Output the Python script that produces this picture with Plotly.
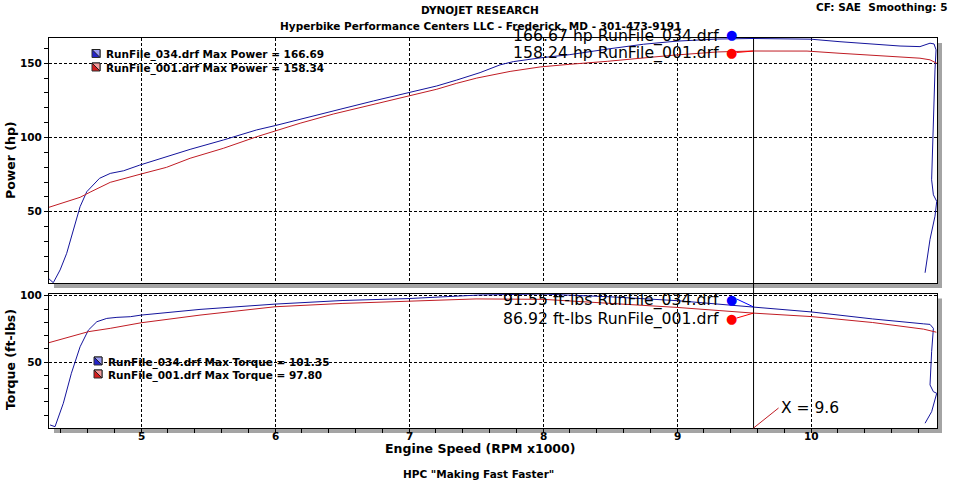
import plotly.graph_objects as go

# pixel frame of the whole plot block (961x481 page)
W, H = 961, 481
L, R, T, B = 49, 937, 38, 428


def px(xp):
    return (xp - L) / (R - L)


def py(yp):
    return (B - yp) / (B - T)


runs = ["RunFile_034.drf", "RunFile_001.drf"]
line_colors = ["#14149c", "#c01c24"]
dot_colors = ["#0000ff", "#ff0000"]
box_dark = ["#2424c8", "#d41c1c"]
box_light = ["#9c9cf4", "#f49c9c"]

rpm_ticks = [5, 6, 7, 8, 9, 10]
max_power = [166.69, 158.34]
max_torque = [101.35, 97.80]
cursor_rpm = 9.571
cursor_hp = [166.67, 158.24]
cursor_tq = [91.55, 86.92]

# Power (hp) vs engine speed (RPM x1000)
hp_rpm_034 = [4.308, 4.345, 4.396, 4.445, 4.495, 4.545, 4.595, 4.63, 4.69, 4.77, 4.87, 4.99,
              5.19, 5.366, 5.614, 5.863, 6.0, 6.237, 6.485, 6.734, 6.995, 7.207, 7.356, 7.53,
              7.679, 7.778, 7.978, 8.2, 8.5, 8.75, 9.0, 9.3, 9.567, 9.75, 10.0, 10.216, 10.463,
              10.664, 10.813, 10.888, 10.918, 10.933, 10.925, 10.913, 10.9, 10.913, 10.938,
              10.925, 10.888, 10.851]
hp_034 = [5.2, 2.2, 10.8, 22.0, 37.7, 53.4, 63.5, 66.8, 72.5, 75.8, 77.6, 81.4,
          87.0, 92.0, 98.3, 105.1, 108.0, 113.6, 119.0, 124.6, 130.2, 134.7, 138.7, 143.7,
          148.9, 151.1, 153.6, 155.8, 159.8, 162.8, 164.9, 166.3, 166.67, 166.6, 166.2, 164.5, 163.0,
          161.6, 161.2, 163.5, 163.0, 159.0, 145.5, 111.8, 71.5, 61.4, 57.0,
          47.0, 31.4, 8.9]

hp_rpm_001 = [4.313, 4.545, 4.62, 4.77, 5.0, 5.19, 5.366, 5.614, 5.863, 6.187, 6.435, 6.684,
              6.957, 7.207, 7.356, 7.505, 7.754, 7.978, 8.2, 8.48, 8.97, 9.3, 9.567, 9.75,
              9.97, 10.216, 10.589, 10.813, 10.888, 10.938]
hp_001 = [53.0, 59.7, 63.2, 69.8, 75.4, 79.9, 86.0, 92.7, 100.5, 109.6, 115.8, 121.2,
          127.5, 132.5, 136.5, 140.0, 144.5, 147.5, 149.3, 151.3, 155.4, 157.6, 158.24, 158.3,
          158.2, 156.7, 154.4, 153.4, 152.3, 150.0]

# Torque (ft-lbs) vs engine speed (RPM x1000)
tq_rpm_034 = [4.321, 4.358, 4.42, 4.48, 4.545, 4.607, 4.67, 4.744, 4.82, 4.92, 5.0, 5.44,
              6.0, 6.34, 6.5, 7.0, 7.53, 8.0, 8.5, 9.0, 9.3, 9.567, 10.0, 10.46, 10.72,
              10.84, 10.888, 10.913, 10.9, 10.888, 10.913, 10.938, 10.9, 10.851]
tq_034 = [2.5, 1.2, 18.9, 41.5, 61.5, 74.1, 80.4, 82.9, 83.7, 84.2, 85.4, 89.7,
          93.7, 95.8, 96.4, 97.9, 100.6, 101.3, 99.2, 96.3, 93.9, 91.55, 87.8, 82.5, 79.6,
          78.8, 78.4, 75.4, 57.8, 32.7, 27.6, 26.4, 12.5, 3.8]

tq_rpm_001 = [4.313, 4.607, 4.77, 5.0, 5.44, 6.0, 6.5, 7.0, 7.5, 8.0, 8.5, 9.0, 9.567,
              10.0, 10.46, 10.84, 10.935]
tq_001 = [64.6, 72.9, 75.4, 79.6, 85.4, 91.7, 94.2, 95.8, 97.6, 97.3, 94.5, 91.2, 86.92,
          84.3, 79.8, 74.8, 72.5]

FONT = "DejaVu Sans"

fig = go.Figure()
fig.add_trace(go.Scatter(x=hp_rpm_034, y=hp_034, mode="lines", line=dict(color=line_colors[0], width=1),
                         xaxis="x", yaxis="y"))
fig.add_trace(go.Scatter(x=hp_rpm_001, y=hp_001, mode="lines", line=dict(color=line_colors[1], width=1),
                         xaxis="x", yaxis="y"))
fig.add_trace(go.Scatter(x=tq_rpm_034, y=tq_034, mode="lines", line=dict(color=line_colors[0], width=1),
                         xaxis="x2", yaxis="y2"))
fig.add_trace(go.Scatter(x=tq_rpm_001, y=tq_001, mode="lines", line=dict(color=line_colors[1], width=1),
                         xaxis="x2", yaxis="y2"))

tickfont = dict(family=FONT, size=10.5, color="black", weight="bold")
common_x = dict(range=[4.313, 10.94], showline=True, mirror=True, linecolor="black", linewidth=1,
                showgrid=True, gridcolor="black", griddash="3px,2px", gridwidth=1,
                tickmode="array", tickvals=rpm_ticks, zeroline=False, showticklabels=False)
common_y = dict(showline=True, mirror=True, linecolor="black", linewidth=1,
                showgrid=True, gridcolor="black", griddash="3px,2px", gridwidth=1,
                tick0=0, dtick=50, zeroline=False, tickfont=tickfont,
                ticks="outside", ticklen=4, tickcolor="black",
                minor=dict(dtick=10, ticks="outside", ticklen=4, tickcolor="black", showgrid=False))

fig.update_layout(
    width=W, height=H,
    margin=dict(l=L, r=W - R, t=T, b=H - B),
    paper_bgcolor="white", plot_bgcolor="white",
    showlegend=False,
    xaxis=dict(common_x, anchor="y", ticks=""),
    yaxis=dict(common_y, domain=[py(283), 1], range=[2.0, 167.0]),
    xaxis2=dict(common_x, anchor="y2", matches="x", ticks="outside", ticklen=4, tickcolor="black",
                minor=dict(tick0=0, dtick=0.2, ticks="outside", ticklen=4, tickcolor="black", showgrid=False)),
    yaxis2=dict(common_y, domain=[0, py(293.5)], range=[0.2, 101.7]),
)

shapes = []
# drop shadows and white panels
for top, bot in [(38, 283), (293.5, 428)]:
    shapes.append(dict(type="rect", xref="paper", yref="paper", layer="below",
                       x0=px(L + 5), x1=px(R + 5), y0=py(bot + 5), y1=py(top + 5),
                       fillcolor="#a4a4a4", line=dict(width=0)))
    shapes.append(dict(type="rect", xref="paper", yref="paper", layer="below",
                       x0=px(L), x1=px(R), y0=py(bot), y1=py(top),
                       fillcolor="white", line=dict(width=0)))
# cursor line across both panels
shapes.append(dict(type="line", xref="x", yref="paper", x0=cursor_rpm, x1=cursor_rpm, y0=0, y1=1,
                   line=dict(color="black", width=1)))

annotations = []


def text(x, y, s, size=10.5, bold=True, anchor="center", color="black", angle=0):
    annotations.append(dict(x=px(x), y=py(y), xref="paper", yref="paper", text=s, showarrow=False,
                            xanchor=anchor, yanchor="middle", textangle=angle,
                            font=dict(family=FONT, size=size, color=color,
                                      weight="bold" if bold else "normal")))


text(480, 10, "DYNOJET RESEARCH")
text(480, 26, "Hyperbike Performance Centers LLC - Frederick, MD - 301-473-9191")
text(950, 7, "CF: SAE&nbsp;&nbsp;Smoothing: 5", anchor="right")
text(480, 448, "Engine Speed (RPM x1000)", size=12.5)
text(478, 474, "HPC \"Making Fast Faster\"")
text(10, 160, "Power (hp)", size=12.5, angle=-90)
text(10, 360, "Torque (ft-lbs)", size=12.5, angle=-90)

# x tick labels, tucked right under the bottom axis
for v in rpm_ticks:
    annotations.append(dict(x=v, y=py(435.5), xref="x2", yref="paper", text=str(v), showarrow=False,
                            xanchor="center", yanchor="middle", font=tickfont))

# legend boxes
legend_rows = [(92, 104, [53.5, 67], "Max Power", max_power),
               (94, 106, [361, 374], "Max Torque", max_torque)]
for bx, tx, ys, label, vals in legend_rows:
    for i, yc in enumerate(ys):
        x0, x1 = px(bx), px(bx + 8)
        y0, y1 = py(yc + 4), py(yc - 4)
        shapes.append(dict(type="rect", xref="paper", yref="paper", x0=x0, x1=x1, y0=y0, y1=y1,
                           fillcolor=box_dark[i], line=dict(color="#303030", width=1)))
        shapes.append(dict(type="path", xref="paper", yref="paper",
                           path=f"M {x0},{y1} L {x1},{y0} L {x1},{y1} Z",
                           fillcolor=box_light[i], line=dict(color="#202020", width=1)))
        text(tx, yc + 1.5, f"{runs[i]} {label} = {vals[i]:.2f}", anchor="left")

# cursor read-outs
for i, (yc, unit, val) in enumerate([(35.5, "hp", cursor_hp[0]), (53.5, "hp", cursor_hp[1])]):
    text(721, yc, f"{val:.2f} {unit} {runs[i]}", size=15.7, bold=False, anchor="right")
for i, (yc, unit, val) in enumerate([(300, "ft-lbs", cursor_tq[0]), (318.5, "ft-lbs", cursor_tq[1])]):
    text(721, yc, f"{val:.2f} {unit} {runs[i]}", size=15.7, bold=False, anchor="right")
for i, yc in enumerate([34.3, 52.7, 299, 318.3]):
    text(731, yc, "●", size=13, bold=False, color=dot_colors[i % 2])

# little leader lines from dots to the curves at the cursor
for i, (yref, val, off) in enumerate([("y", cursor_hp[0], 4), ("y", cursor_hp[1], -1.5),
                                       ("y2", cursor_tq[0], 8), ("y2", cursor_tq[1], -5)]):
    shapes.append(dict(type="line", xref="x", yref=yref, xsizemode="pixel", ysizemode="pixel",
                       xanchor=cursor_rpm, yanchor=val, x0=-17, x1=0, y0=off, y1=0,
                       line=dict(color=dot_colors[i % 2], width=1)))

annotations.append(dict(x=cursor_rpm, y=0.2, xref="x2", yref="y2", text=f"X = {cursor_rpm:.1f}",
                        showarrow=True, arrowhead=0, arrowwidth=1, arrowcolor="#c01c24",
                        ax=25, ay=-20, xanchor="left", yanchor="middle",
                        font=dict(family=FONT, size=15.5, color="black")))

fig.update_layout(shapes=shapes, annotations=annotations)
fig.write_html("out.html", config={"displayModeBar": False},
               post_script="document.body.style.margin='0';document.body.style.overflow='hidden';")
